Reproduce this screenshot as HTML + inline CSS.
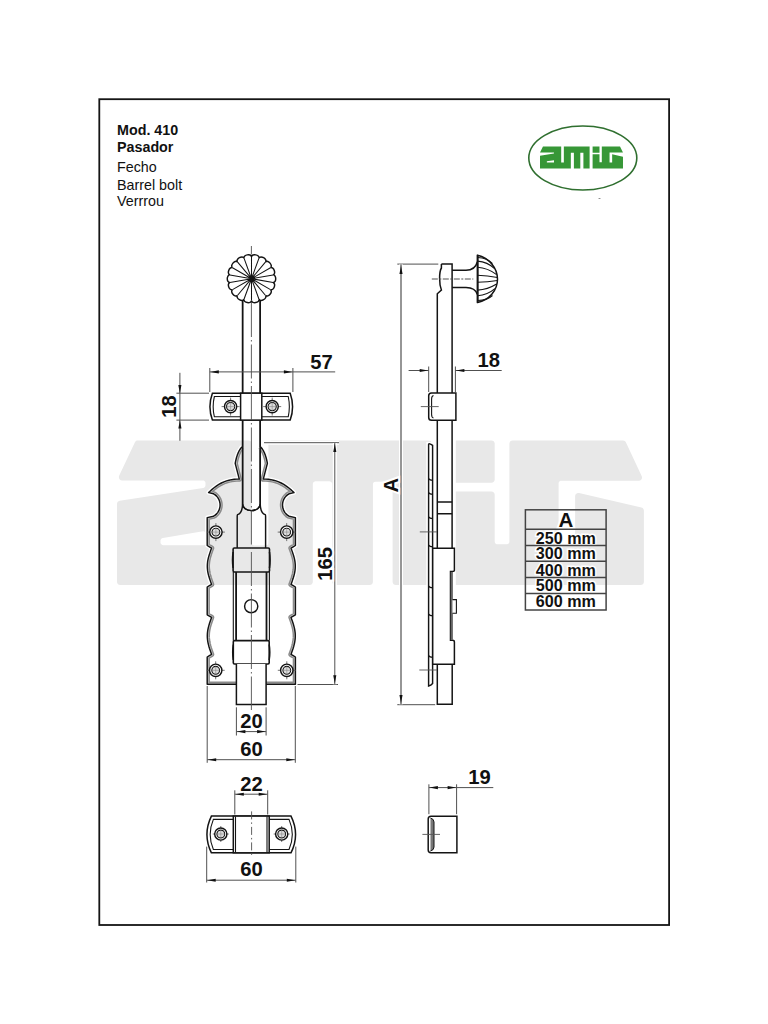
<!DOCTYPE html><html><head><meta charset="utf-8"><title>Mod. 410 Pasador</title><style>html,body{margin:0;padding:0;background:#fff;width:768px;height:1024px;overflow:hidden}svg{display:block}text{font-family:"Liberation Sans",sans-serif}</style></head><body><svg width="768" height="1024" viewBox="0 0 768 1024"><rect width="768" height="1024" fill="#fff"/><path d="M451,581.9 L451.24,583.12 L451.94,584.16 L452.98,584.86 L454.2,585.1 L640.7,585.1 L641.92,584.86 L642.96,584.16 L643.66,583.12 L643.9,581.9 L643.9,510.55 L643.58,509.16 L642.7,508.05 L641.42,507.43 L579.02,493.1 L577.87,493.05 L576.79,493.4 L575.89,494.11 L575.3,495.09 L575.1,496.22 L575.1,543.24 L574.96,544.09 L574.73,544.66 L574.08,545.41 L573.19,545.86 L572.65,545.97 L561.36,546 L560.51,545.86 L559.62,545.41 L558.97,544.66 L558.63,543.55 L558.6,483.46 L558.74,482.61 L558.97,482.04 L559.62,481.29 L560.51,480.84 L561.36,480.7 L638.86,480.7 L640.12,480.45 L641.17,479.72 L641.85,478.64 L642.06,477.38 L641.76,476.14 L625.86,442.24 L625.16,441.27 L624.15,440.63 L622.97,440.4 L512.6,440.4 L511.38,440.64 L510.34,441.34 L509.64,442.38 L509.4,443.6 L509.4,541.54 L509.26,542.39 L509.03,542.96 L508.06,543.93 L506.95,544.27 L497.46,544.3 L496.61,544.16 L495.72,543.71 L495.29,543.28 L494.84,542.39 L494.7,541.54 L494.7,494.7 L494.46,493.48 L493.76,492.44 L492.72,491.74 L491.5,491.5 L454.2,491.5 L452.98,491.74 L451.94,492.44 L451.24,493.48 L451,494.7ZM454.2,440.4 L452.98,440.64 L451.94,441.34 L451.24,442.38 L451,443.6 L451,479.5 L451.24,480.72 L451.94,481.76 L452.98,482.46 L454.2,482.7 L491.5,482.7 L492.72,482.46 L493.76,481.76 L494.46,480.72 L494.7,479.5 L494.7,443.6 L494.46,442.38 L493.76,441.34 L492.72,440.64 L491.5,440.4ZM117,581.9 L117.24,583.12 L117.94,584.16 L118.98,584.86 L120.2,585.1 L309.6,585.1 L310.82,584.86 L311.86,584.16 L312.56,583.12 L312.8,581.9 L312.83,483.75 L312.94,483.21 L313.39,482.32 L314.14,481.67 L315.25,481.33 L329.44,481.3 L330.29,481.44 L331.18,481.89 L331.83,482.64 L332.06,483.21 L332.2,484.06 L332.2,581.9 L332.44,583.12 L333.14,584.16 L334.18,584.86 L335.4,585.1 L369.7,585.1 L370.92,584.86 L371.96,584.16 L372.66,583.12 L372.9,581.9 L372.93,484.05 L373.04,483.51 L373.49,482.62 L374.24,481.97 L375.35,481.63 L389.84,481.6 L390.69,481.74 L391.58,482.19 L392.23,482.94 L392.46,483.51 L392.6,484.36 L392.6,581.9 L392.84,583.12 L393.54,584.16 L394.58,584.86 L395.8,585.1 L428.8,585.1 L430.02,584.86 L431.06,584.16 L431.76,583.12 L432,581.9 L432,443.6 L431.76,442.38 L431.06,441.34 L430.02,440.64 L428.8,440.4 L271.6,440.4 L270.38,440.64 L269.34,441.34 L268.64,442.38 L268.4,443.6 L268.37,543.05 L268.03,544.16 L267.38,544.91 L266.49,545.36 L265.95,545.47 L254.36,545.5 L253.51,545.36 L252.94,545.13 L252.19,544.48 L251.74,543.59 L251.6,542.74 L251.6,443.6 L251.36,442.38 L250.66,441.34 L249.62,440.64 L248.4,440.4 L137.83,440.4 L136.65,440.62 L135.64,441.27 L134.94,442.24 L119.14,475.84 L118.84,477.08 L119.05,478.34 L119.74,479.42 L120.79,480.14 L122.04,480.4 L202.74,480.4 L203.59,480.54 L204.16,480.77 L205.13,481.74 L205.36,482.31 L205.5,483.16 L205.47,485.51 L205.19,486.52 L204.65,487.24 L203.89,487.73 L203.15,487.96 L119.71,500.77 L118.65,501.14 L117.77,501.85 L117.2,502.82 L117,503.94ZM206,542.44 L205.86,543.29 L205.41,544.18 L204.66,544.83 L204.09,545.06 L203.24,545.2 L163.26,545.2 L162.41,545.06 L161.84,544.83 L160.87,543.86 L160.53,542.75 L160.5,540.74 L160.61,539.98 L160.97,539.17 L161.6,538.52 L162.81,538.01 L203.15,531.31 L203.74,531.35 L204.77,531.72 L205.29,532.16 L205.83,533.12 L206,534.04Z" fill="#e8e8e8" fill-rule="evenodd"/>
<rect x="99.3" y="99.2" width="569.8" height="825.8" fill="none" stroke="#151515" stroke-width="1.8"/>
<g font-family="Liberation Sans" fill="#111"><text x="117" y="135" font-size="14.3" font-weight="bold">Mod. 410</text><text x="117" y="151.7" font-size="14.3" font-weight="bold">Pasador</text><text x="117" y="172.4" font-size="14.3">Fecho</text><text x="117" y="189.6" font-size="14.3">Barrel bolt</text><text x="117" y="206.4" font-size="14.3">Verrrou</text></g>
<g id="logo"><ellipse cx="582.8" cy="158" rx="54" ry="32" fill="none" stroke="#2f6f2f" stroke-width="1.6"/><g transform="translate(540,146.4) scale(0.1575,0.1526) translate(-117,-440.4)"><path d="M135.8,440.4 L117,480.4 L205.5,480.4 L205.5,487.6 L117,501.19 L117,585.1 L312.8,585.1 L312.8,481.3 L332.2,481.3 L332.2,585.1 L372.9,585.1 L372.9,481.6 L392.6,481.6 L392.6,585.1 L432,585.1 L432,440.4 L268.4,440.4 L268.4,545.5 L251.6,545.5 L251.6,440.4ZM206,545.2 L160.5,545.2 L160.5,538.4 L206,530.8ZM451,440.4 L451,482.7 L494.7,482.7 L494.7,440.4ZM625,440.4 L509.4,440.4 L509.4,544.3 L494.7,544.3 L494.7,491.5 L451,491.5 L451,585.1 L643.9,585.1 L643.9,508 L575.1,492.2 L575.1,546 L558.6,546 L558.6,480.7 L643.9,480.7Z" fill="#379737" fill-rule="evenodd"/></g><ellipse cx="599.5" cy="198.5" rx="1.2" ry="0.6" fill="#888"/></g>
<path d="M251.5,256.8 C251.87,253.27 259.85,254.68 258.99,258.12 C260.54,254.93 267.56,258.98 265.58,261.92 C268.13,259.46 273.34,265.66 270.47,267.75 C273.71,266.31 276.48,273.92 273.07,274.9 C276.61,274.65 276.61,282.75 273.07,282.5 C276.48,283.48 273.71,291.09 270.47,289.65 C273.34,291.74 268.13,297.94 265.58,295.48 C267.56,298.42 260.54,302.47 258.99,299.28 C259.85,302.72 251.87,304.13 251.5,300.6 C251.13,304.13 243.15,302.72 244.01,299.28 C242.46,302.47 235.44,298.42 237.42,295.48 C234.87,297.94 229.66,291.74 232.53,289.65 C229.29,291.09 226.52,283.48 229.93,282.5 C226.39,282.75 226.39,274.65 229.93,274.9 C226.52,273.92 229.29,266.31 232.53,267.75 C229.66,265.66 234.87,259.46 237.42,261.92 C235.44,258.98 242.46,254.93 244.01,258.12 C243.15,254.68 251.13,253.27 251.5,256.8 Z" fill="#fff" stroke="#141414" stroke-width="1.45"/>
<path d="M251.5,278.7 L251.5,256.8 M251.5,278.7 L258.99,258.12 M251.5,278.7 L265.58,261.92 M251.5,278.7 L270.47,267.75 M251.5,278.7 L273.07,274.9 M251.5,278.7 L273.07,282.5 M251.5,278.7 L270.47,289.65 M251.5,278.7 L265.58,295.48 M251.5,278.7 L258.99,299.28 M251.5,278.7 L251.5,300.6 M251.5,278.7 L244.01,299.28 M251.5,278.7 L237.42,295.48 M251.5,278.7 L232.53,289.65 M251.5,278.7 L229.93,282.5 M251.5,278.7 L229.93,274.9 M251.5,278.7 L232.53,267.75 M251.5,278.7 L237.42,261.92 M251.5,278.7 L244.01,258.12 " fill="none" stroke="#141414" stroke-width="1.05"/>
<circle cx="251.5" cy="278.7" r="1.4" fill="#141414"/>
<path d="M242.6,300.5 L242.6,504.2 A8.8,6.4 0 0 0 260.2,504.2 L260.2,300.5" fill="none" stroke="#141414" stroke-width="1.45"/>
<defs><clipPath id="pc"><path d="M242.2,446.8 L241.04,448.02 L239.96,449.49 L238.97,451.2 L238.05,453.15 L237.22,455.35 L236.46,457.79 L235.79,460.47 L235.2,463.4 L239.3,479.1 L236.74,479.14 L234.18,479.32 L231.62,479.66 L229.07,480.18 L226.51,480.9 L223.95,481.84 L221.39,483.01 L218.83,484.41 L216.28,486.07 L213.72,487.98 L211.16,490.15 L208.6,492.6 L213.56,493.78 L215.17,494.85 L216.6,496.15 L217.82,497.66 L218.8,499.34 L219.52,501.15 L219.95,503.05 L220.1,505 L219.95,506.95 L219.52,508.85 L218.8,510.66 L217.82,512.34 L216.6,513.85 L215.17,515.15 L213.56,516.22 L207.2,517.6 L207.2,545.5 L209.4,546.8 L211.6,548.1 L210.85,550.12 L210.13,552.13 L209.45,554.15 L208.84,556.17 L208.31,558.18 L207.88,560.2 L207.56,562.22 L207.37,564.23 L207.3,566.25 L207.37,568.27 L207.56,570.28 L207.88,572.3 L208.31,574.32 L208.84,576.33 L209.45,578.35 L210.13,580.37 L210.85,582.38 L211.6,584.4 L209.4,585.7 L207.2,587 L207.2,614.8 L209.4,616.1 L211.6,617.4 L210.85,619.46 L210.13,621.51 L209.45,623.57 L208.84,625.62 L208.31,627.68 L207.88,629.73 L207.56,631.79 L207.37,633.84 L207.3,635.9 L207.37,637.96 L207.56,640.01 L207.88,642.07 L208.31,644.12 L208.84,646.18 L209.45,648.23 L210.13,650.29 L210.85,652.34 L211.6,654.4 L209.4,655.7 L207.2,657 L207.2,684.2 L295.4,684.2 L295.4,657 L293.2,655.7 L291,654.4 L291.75,652.34 L292.47,650.29 L293.15,648.23 L293.76,646.18 L294.29,644.12 L294.72,642.07 L295.04,640.01 L295.23,637.96 L295.3,635.9 L295.23,633.84 L295.04,631.79 L294.72,629.73 L294.29,627.68 L293.76,625.62 L293.15,623.57 L292.47,621.51 L291.75,619.46 L291,617.4 L293.2,616.1 L295.4,614.8 L295.4,587 L293.2,585.7 L291,584.4 L291.75,582.38 L292.47,580.37 L293.15,578.35 L293.76,576.33 L294.29,574.32 L294.72,572.3 L295.04,570.28 L295.23,568.27 L295.3,566.25 L295.23,564.23 L295.04,562.22 L294.72,560.2 L294.29,558.18 L293.76,556.17 L293.15,554.15 L292.47,552.13 L291.75,550.12 L291,548.1 L293.2,546.8 L295.4,545.5 L295.4,517.6 L289.04,516.22 L287.43,515.15 L286,513.85 L284.78,512.34 L283.8,510.66 L283.08,508.85 L282.65,506.95 L282.5,505 L282.65,503.05 L283.08,501.15 L283.8,499.34 L284.78,497.66 L286,496.15 L287.43,494.85 L289.04,493.78 L294,492.6 L291.44,490.15 L288.88,487.98 L286.33,486.07 L283.77,484.41 L281.21,483.01 L278.65,481.84 L276.09,480.9 L273.53,480.18 L270.98,479.66 L268.42,479.32 L265.86,479.14 L263.3,479.1 L267.4,463.4 L266.81,460.47 L266.14,457.79 L265.38,455.35 L264.55,453.15 L263.63,451.2 L262.64,449.49 L261.56,448.02 L260.4,446.8 Z"/></clipPath></defs>
<path d="M242.2,446.8 L241.04,448.02 L239.96,449.49 L238.97,451.2 L238.05,453.15 L237.22,455.35 L236.46,457.79 L235.79,460.47 L235.2,463.4 L239.3,479.1 L236.74,479.14 L234.18,479.32 L231.62,479.66 L229.07,480.18 L226.51,480.9 L223.95,481.84 L221.39,483.01 L218.83,484.41 L216.28,486.07 L213.72,487.98 L211.16,490.15 L208.6,492.6 L213.56,493.78 L215.17,494.85 L216.6,496.15 L217.82,497.66 L218.8,499.34 L219.52,501.15 L219.95,503.05 L220.1,505 L219.95,506.95 L219.52,508.85 L218.8,510.66 L217.82,512.34 L216.6,513.85 L215.17,515.15 L213.56,516.22 L207.2,517.6 L207.2,545.5 L209.4,546.8 L211.6,548.1 L210.85,550.12 L210.13,552.13 L209.45,554.15 L208.84,556.17 L208.31,558.18 L207.88,560.2 L207.56,562.22 L207.37,564.23 L207.3,566.25 L207.37,568.27 L207.56,570.28 L207.88,572.3 L208.31,574.32 L208.84,576.33 L209.45,578.35 L210.13,580.37 L210.85,582.38 L211.6,584.4 L209.4,585.7 L207.2,587 L207.2,614.8 L209.4,616.1 L211.6,617.4 L210.85,619.46 L210.13,621.51 L209.45,623.57 L208.84,625.62 L208.31,627.68 L207.88,629.73 L207.56,631.79 L207.37,633.84 L207.3,635.9 L207.37,637.96 L207.56,640.01 L207.88,642.07 L208.31,644.12 L208.84,646.18 L209.45,648.23 L210.13,650.29 L210.85,652.34 L211.6,654.4 L209.4,655.7 L207.2,657 L207.2,684.2 L295.4,684.2 L295.4,657 L293.2,655.7 L291,654.4 L291.75,652.34 L292.47,650.29 L293.15,648.23 L293.76,646.18 L294.29,644.12 L294.72,642.07 L295.04,640.01 L295.23,637.96 L295.3,635.9 L295.23,633.84 L295.04,631.79 L294.72,629.73 L294.29,627.68 L293.76,625.62 L293.15,623.57 L292.47,621.51 L291.75,619.46 L291,617.4 L293.2,616.1 L295.4,614.8 L295.4,587 L293.2,585.7 L291,584.4 L291.75,582.38 L292.47,580.37 L293.15,578.35 L293.76,576.33 L294.29,574.32 L294.72,572.3 L295.04,570.28 L295.23,568.27 L295.3,566.25 L295.23,564.23 L295.04,562.22 L294.72,560.2 L294.29,558.18 L293.76,556.17 L293.15,554.15 L292.47,552.13 L291.75,550.12 L291,548.1 L293.2,546.8 L295.4,545.5 L295.4,517.6 L289.04,516.22 L287.43,515.15 L286,513.85 L284.78,512.34 L283.8,510.66 L283.08,508.85 L282.65,506.95 L282.5,505 L282.65,503.05 L283.08,501.15 L283.8,499.34 L284.78,497.66 L286,496.15 L287.43,494.85 L289.04,493.78 L294,492.6 L291.44,490.15 L288.88,487.98 L286.33,486.07 L283.77,484.41 L281.21,483.01 L278.65,481.84 L276.09,480.9 L273.53,480.18 L270.98,479.66 L268.42,479.32 L265.86,479.14 L263.3,479.1 L267.4,463.4 L266.81,460.47 L266.14,457.79 L265.38,455.35 L264.55,453.15 L263.63,451.2 L262.64,449.49 L261.56,448.02 L260.4,446.8" fill="none" stroke="#fff" stroke-width="4.2" stroke-linejoin="round"/>
<path d="M242.2,446.8 L241.04,448.02 L239.96,449.49 L238.97,451.2 L238.05,453.15 L237.22,455.35 L236.46,457.79 L235.79,460.47 L235.2,463.4 L239.3,479.1 L236.74,479.14 L234.18,479.32 L231.62,479.66 L229.07,480.18 L226.51,480.9 L223.95,481.84 L221.39,483.01 L218.83,484.41 L216.28,486.07 L213.72,487.98 L211.16,490.15 L208.6,492.6 L213.56,493.78 L215.17,494.85 L216.6,496.15 L217.82,497.66 L218.8,499.34 L219.52,501.15 L219.95,503.05 L220.1,505 L219.95,506.95 L219.52,508.85 L218.8,510.66 L217.82,512.34 L216.6,513.85 L215.17,515.15 L213.56,516.22 L207.2,517.6 L207.2,545.5 L209.4,546.8 L211.6,548.1 L210.85,550.12 L210.13,552.13 L209.45,554.15 L208.84,556.17 L208.31,558.18 L207.88,560.2 L207.56,562.22 L207.37,564.23 L207.3,566.25 L207.37,568.27 L207.56,570.28 L207.88,572.3 L208.31,574.32 L208.84,576.33 L209.45,578.35 L210.13,580.37 L210.85,582.38 L211.6,584.4 L209.4,585.7 L207.2,587 L207.2,614.8 L209.4,616.1 L211.6,617.4 L210.85,619.46 L210.13,621.51 L209.45,623.57 L208.84,625.62 L208.31,627.68 L207.88,629.73 L207.56,631.79 L207.37,633.84 L207.3,635.9 L207.37,637.96 L207.56,640.01 L207.88,642.07 L208.31,644.12 L208.84,646.18 L209.45,648.23 L210.13,650.29 L210.85,652.34 L211.6,654.4 L209.4,655.7 L207.2,657 L207.2,684.2 L295.4,684.2 L295.4,657 L293.2,655.7 L291,654.4 L291.75,652.34 L292.47,650.29 L293.15,648.23 L293.76,646.18 L294.29,644.12 L294.72,642.07 L295.04,640.01 L295.23,637.96 L295.3,635.9 L295.23,633.84 L295.04,631.79 L294.72,629.73 L294.29,627.68 L293.76,625.62 L293.15,623.57 L292.47,621.51 L291.75,619.46 L291,617.4 L293.2,616.1 L295.4,614.8 L295.4,587 L293.2,585.7 L291,584.4 L291.75,582.38 L292.47,580.37 L293.15,578.35 L293.76,576.33 L294.29,574.32 L294.72,572.3 L295.04,570.28 L295.23,568.27 L295.3,566.25 L295.23,564.23 L295.04,562.22 L294.72,560.2 L294.29,558.18 L293.76,556.17 L293.15,554.15 L292.47,552.13 L291.75,550.12 L291,548.1 L293.2,546.8 L295.4,545.5 L295.4,517.6 L289.04,516.22 L287.43,515.15 L286,513.85 L284.78,512.34 L283.8,510.66 L283.08,508.85 L282.65,506.95 L282.5,505 L282.65,503.05 L283.08,501.15 L283.8,499.34 L284.78,497.66 L286,496.15 L287.43,494.85 L289.04,493.78 L294,492.6 L291.44,490.15 L288.88,487.98 L286.33,486.07 L283.77,484.41 L281.21,483.01 L278.65,481.84 L276.09,480.9 L273.53,480.18 L270.98,479.66 L268.42,479.32 L265.86,479.14 L263.3,479.1 L267.4,463.4 L266.81,460.47 L266.14,457.79 L265.38,455.35 L264.55,453.15 L263.63,451.2 L262.64,449.49 L261.56,448.02 L260.4,446.8" fill="none" stroke="#8a8a8a" stroke-width="5.4" stroke-linejoin="round" clip-path="url(#pc)"/>
<path d="M242.2,446.8 L241.04,448.02 L239.96,449.49 L238.97,451.2 L238.05,453.15 L237.22,455.35 L236.46,457.79 L235.79,460.47 L235.2,463.4 L239.3,479.1 L236.74,479.14 L234.18,479.32 L231.62,479.66 L229.07,480.18 L226.51,480.9 L223.95,481.84 L221.39,483.01 L218.83,484.41 L216.28,486.07 L213.72,487.98 L211.16,490.15 L208.6,492.6 L213.56,493.78 L215.17,494.85 L216.6,496.15 L217.82,497.66 L218.8,499.34 L219.52,501.15 L219.95,503.05 L220.1,505 L219.95,506.95 L219.52,508.85 L218.8,510.66 L217.82,512.34 L216.6,513.85 L215.17,515.15 L213.56,516.22 L207.2,517.6 L207.2,545.5 L209.4,546.8 L211.6,548.1 L210.85,550.12 L210.13,552.13 L209.45,554.15 L208.84,556.17 L208.31,558.18 L207.88,560.2 L207.56,562.22 L207.37,564.23 L207.3,566.25 L207.37,568.27 L207.56,570.28 L207.88,572.3 L208.31,574.32 L208.84,576.33 L209.45,578.35 L210.13,580.37 L210.85,582.38 L211.6,584.4 L209.4,585.7 L207.2,587 L207.2,614.8 L209.4,616.1 L211.6,617.4 L210.85,619.46 L210.13,621.51 L209.45,623.57 L208.84,625.62 L208.31,627.68 L207.88,629.73 L207.56,631.79 L207.37,633.84 L207.3,635.9 L207.37,637.96 L207.56,640.01 L207.88,642.07 L208.31,644.12 L208.84,646.18 L209.45,648.23 L210.13,650.29 L210.85,652.34 L211.6,654.4 L209.4,655.7 L207.2,657 L207.2,684.2 L295.4,684.2 L295.4,657 L293.2,655.7 L291,654.4 L291.75,652.34 L292.47,650.29 L293.15,648.23 L293.76,646.18 L294.29,644.12 L294.72,642.07 L295.04,640.01 L295.23,637.96 L295.3,635.9 L295.23,633.84 L295.04,631.79 L294.72,629.73 L294.29,627.68 L293.76,625.62 L293.15,623.57 L292.47,621.51 L291.75,619.46 L291,617.4 L293.2,616.1 L295.4,614.8 L295.4,587 L293.2,585.7 L291,584.4 L291.75,582.38 L292.47,580.37 L293.15,578.35 L293.76,576.33 L294.29,574.32 L294.72,572.3 L295.04,570.28 L295.23,568.27 L295.3,566.25 L295.23,564.23 L295.04,562.22 L294.72,560.2 L294.29,558.18 L293.76,556.17 L293.15,554.15 L292.47,552.13 L291.75,550.12 L291,548.1 L293.2,546.8 L295.4,545.5 L295.4,517.6 L289.04,516.22 L287.43,515.15 L286,513.85 L284.78,512.34 L283.8,510.66 L283.08,508.85 L282.65,506.95 L282.5,505 L282.65,503.05 L283.08,501.15 L283.8,499.34 L284.78,497.66 L286,496.15 L287.43,494.85 L289.04,493.78 L294,492.6 L291.44,490.15 L288.88,487.98 L286.33,486.07 L283.77,484.41 L281.21,483.01 L278.65,481.84 L276.09,480.9 L273.53,480.18 L270.98,479.66 L268.42,479.32 L265.86,479.14 L263.3,479.1 L267.4,463.4 L266.81,460.47 L266.14,457.79 L265.38,455.35 L264.55,453.15 L263.63,451.2 L262.64,449.49 L261.56,448.02 L260.4,446.8" fill="none" stroke="#d4d4d4" stroke-width="2.5" stroke-linejoin="round" clip-path="url(#pc)"/>
<path d="M242.2,446.8 L241.04,448.02 L239.96,449.49 L238.97,451.2 L238.05,453.15 L237.22,455.35 L236.46,457.79 L235.79,460.47 L235.2,463.4 L239.3,479.1 L236.74,479.14 L234.18,479.32 L231.62,479.66 L229.07,480.18 L226.51,480.9 L223.95,481.84 L221.39,483.01 L218.83,484.41 L216.28,486.07 L213.72,487.98 L211.16,490.15 L208.6,492.6 L213.56,493.78 L215.17,494.85 L216.6,496.15 L217.82,497.66 L218.8,499.34 L219.52,501.15 L219.95,503.05 L220.1,505 L219.95,506.95 L219.52,508.85 L218.8,510.66 L217.82,512.34 L216.6,513.85 L215.17,515.15 L213.56,516.22 L207.2,517.6 L207.2,545.5 L209.4,546.8 L211.6,548.1 L210.85,550.12 L210.13,552.13 L209.45,554.15 L208.84,556.17 L208.31,558.18 L207.88,560.2 L207.56,562.22 L207.37,564.23 L207.3,566.25 L207.37,568.27 L207.56,570.28 L207.88,572.3 L208.31,574.32 L208.84,576.33 L209.45,578.35 L210.13,580.37 L210.85,582.38 L211.6,584.4 L209.4,585.7 L207.2,587 L207.2,614.8 L209.4,616.1 L211.6,617.4 L210.85,619.46 L210.13,621.51 L209.45,623.57 L208.84,625.62 L208.31,627.68 L207.88,629.73 L207.56,631.79 L207.37,633.84 L207.3,635.9 L207.37,637.96 L207.56,640.01 L207.88,642.07 L208.31,644.12 L208.84,646.18 L209.45,648.23 L210.13,650.29 L210.85,652.34 L211.6,654.4 L209.4,655.7 L207.2,657 L207.2,684.2 L295.4,684.2 L295.4,657 L293.2,655.7 L291,654.4 L291.75,652.34 L292.47,650.29 L293.15,648.23 L293.76,646.18 L294.29,644.12 L294.72,642.07 L295.04,640.01 L295.23,637.96 L295.3,635.9 L295.23,633.84 L295.04,631.79 L294.72,629.73 L294.29,627.68 L293.76,625.62 L293.15,623.57 L292.47,621.51 L291.75,619.46 L291,617.4 L293.2,616.1 L295.4,614.8 L295.4,587 L293.2,585.7 L291,584.4 L291.75,582.38 L292.47,580.37 L293.15,578.35 L293.76,576.33 L294.29,574.32 L294.72,572.3 L295.04,570.28 L295.23,568.27 L295.3,566.25 L295.23,564.23 L295.04,562.22 L294.72,560.2 L294.29,558.18 L293.76,556.17 L293.15,554.15 L292.47,552.13 L291.75,550.12 L291,548.1 L293.2,546.8 L295.4,545.5 L295.4,517.6 L289.04,516.22 L287.43,515.15 L286,513.85 L284.78,512.34 L283.8,510.66 L283.08,508.85 L282.65,506.95 L282.5,505 L282.65,503.05 L283.08,501.15 L283.8,499.34 L284.78,497.66 L286,496.15 L287.43,494.85 L289.04,493.78 L294,492.6 L291.44,490.15 L288.88,487.98 L286.33,486.07 L283.77,484.41 L281.21,483.01 L278.65,481.84 L276.09,480.9 L273.53,480.18 L270.98,479.66 L268.42,479.32 L265.86,479.14 L263.3,479.1 L267.4,463.4 L266.81,460.47 L266.14,457.79 L265.38,455.35 L264.55,453.15 L263.63,451.2 L262.64,449.49 L261.56,448.02 L260.4,446.8" fill="none" stroke="#141414" stroke-width="1.45" stroke-linejoin="round"/>
<path d="M242.6,504 Q242.3,513.3 237.6,514.6 Q237.2,515 237.2,516.5 L237.2,548" fill="none" stroke="#141414" stroke-width="1.45"/>
<path d="M260.2,504 Q260.5,513.3 265.2,514.6 Q265.6,515 265.6,516.5 L265.6,548" fill="none" stroke="#141414" stroke-width="1.45"/>
<path d="M242.6,300.5 L242.6,504.2 A8.8,6.4 0 0 0 260.2,504.2 L260.2,300.5" fill="none" stroke="#141414" stroke-width="1.45"/>
<path d="M233.3,572 L233.3,640.6 M269.4,572 L269.4,640.6" stroke="#141414" stroke-width="1.1"/>
<path d="M236.1,572 L236.1,640.6 M266.5,572 L266.5,640.6" stroke="#141414" stroke-width="1.8"/>
<rect x="233.1" y="548" width="36.4" height="24" rx="1.2" fill="none" stroke="#141414" stroke-width="1.6"/>
<rect x="233.3" y="640.6" width="35.9" height="23.4" rx="1.2" fill="none" stroke="#141414" stroke-width="1.6"/>
<path d="M233.1,552 Q231.9,560 233.1,568 M269.5,552 Q270.7,560 269.5,568 M233.3,644.5 Q232.1,652.3 233.3,660 M269.2,644.5 Q270.4,652.3 269.2,660" fill="none" stroke="#141414" stroke-width="1.5"/>
<path d="M236.4,664 L236.4,704.5 L266.1,704.5 L266.1,664" fill="#fff" stroke="#141414" stroke-width="1.5"/>
<circle cx="251.2" cy="606.2" r="6.6" fill="none" stroke="#141414" stroke-width="1.45"/>
<path d="M206.9,532.1 L224.9,532.1 M215.9,523.1 L215.9,541.1" stroke="#555" stroke-width="0.8"/><circle cx="215.9" cy="532.1" r="6.2" fill="#fff" stroke="#141414" stroke-width="1.45"/><circle cx="215.9" cy="532.1" r="3.9" fill="#ddd" stroke="#141414" stroke-width="1.1"/><path d="M212,532.1 L219.8,532.1 M215.9,528.2 L215.9,536" stroke="#888" stroke-width="0.6"/>
<path d="M277.7,532.1 L295.7,532.1 M286.7,523.1 L286.7,541.1" stroke="#555" stroke-width="0.8"/><circle cx="286.7" cy="532.1" r="6.2" fill="#fff" stroke="#141414" stroke-width="1.45"/><circle cx="286.7" cy="532.1" r="3.9" fill="#ddd" stroke="#141414" stroke-width="1.1"/><path d="M282.8,532.1 L290.6,532.1 M286.7,528.2 L286.7,536" stroke="#888" stroke-width="0.6"/>
<path d="M206.7,670.3 L224.7,670.3 M215.7,661.3 L215.7,679.3" stroke="#555" stroke-width="0.8"/><circle cx="215.7" cy="670.3" r="6.2" fill="#fff" stroke="#141414" stroke-width="1.45"/><circle cx="215.7" cy="670.3" r="3.9" fill="#ddd" stroke="#141414" stroke-width="1.1"/><path d="M211.8,670.3 L219.6,670.3 M215.7,666.4 L215.7,674.2" stroke="#888" stroke-width="0.6"/>
<path d="M277.8,670.3 L295.8,670.3 M286.8,661.3 L286.8,679.3" stroke="#555" stroke-width="0.8"/><circle cx="286.8" cy="670.3" r="6.2" fill="#fff" stroke="#141414" stroke-width="1.45"/><circle cx="286.8" cy="670.3" r="3.9" fill="#ddd" stroke="#141414" stroke-width="1.1"/><path d="M282.9,670.3 L290.7,670.3 M286.8,666.4 L286.8,674.2" stroke="#888" stroke-width="0.6"/>
<path d="M212.4,393.2 L290.2,393.2 Q294.95,406.65 290.2,420.1 L212.4,420.1 Q207.46,406.65 212.4,393.2 Z" fill="#fff" stroke="#141414" stroke-width="1.5"/><path d="M214.38,396.5 L288.22,396.5 Q290.46,406.65 288.22,416.8 L214.38,416.8 Q211.95,406.65 214.38,396.5 Z" fill="none" stroke="#141414" stroke-width="1.1"/>
<rect x="240.6" y="393.2" width="21.2" height="26.9" fill="#fff" stroke="#141414" stroke-width="1.5"/>
<path d="M221.6,406.6 L239.6,406.6 M230.6,397.6 L230.6,415.6" stroke="#555" stroke-width="0.8"/><circle cx="230.6" cy="406.6" r="6.1" fill="#fff" stroke="#141414" stroke-width="1.45"/><circle cx="230.6" cy="406.6" r="4.1" fill="#ddd" stroke="#141414" stroke-width="1.1"/><path d="M226.5,406.6 L234.7,406.6 M230.6,402.5 L230.6,410.7" stroke="#888" stroke-width="0.6"/>
<path d="M263.2,406.6 L281.2,406.6 M272.2,397.6 L272.2,415.6" stroke="#555" stroke-width="0.8"/><circle cx="272.2" cy="406.6" r="6.1" fill="#fff" stroke="#141414" stroke-width="1.45"/><circle cx="272.2" cy="406.6" r="4.1" fill="#ddd" stroke="#141414" stroke-width="1.1"/><path d="M268.1,406.6 L276.3,406.6 M272.2,402.5 L272.2,410.7" stroke="#888" stroke-width="0.6"/>
<path d="M251.4,246 L251.4,254.5" stroke="#505050" stroke-width="0.9"/>
<path d="M251.4,303 L251.4,710" stroke="#505050" stroke-width="0.9" stroke-dasharray="34 3 1.5 3"/>
<path d="M209.8,368 L209.8,392" stroke="#505050" stroke-width="1.0"/><path d="M292.9,368 L292.9,392" stroke="#505050" stroke-width="1.0"/><path d="M209.8,371.9 L335.2,371.9" stroke="#505050" stroke-width="1.0"/><path d="M210.3,371.9 L218.8,370.35 L218.8,373.45 Z" fill="#111"/><path d="M292.4,371.9 L283.9,373.45 L283.9,370.35 Z" fill="#111"/><text x="321.5" y="369.2" font-family="Liberation Sans" font-weight="bold" font-size="20.2" text-anchor="middle" fill="#111">57</text><path d="M176.4,393.2 L209,393.2" stroke="#505050" stroke-width="1.0"/><path d="M176.4,420.1 L209,420.1" stroke="#505050" stroke-width="1.0"/><path d="M179.9,372.8 L179.9,440.8" stroke="#505050" stroke-width="1.0"/><path d="M179.9,393.4 L178.35,384.9 L181.45,384.9 Z" fill="#111"/><path d="M179.9,419.9 L181.45,428.4 L178.35,428.4 Z" fill="#111"/><text x="176" y="406.4" font-family="Liberation Sans" font-weight="bold" font-size="20.2" text-anchor="middle" transform="rotate(-90 176 406.4)" fill="#111">18</text><path d="M264,442.7 L339,442.7" stroke="#fff" stroke-width="4"/><path d="M264,442.7 L339,442.7" stroke="#505050" stroke-width="1.0"/><path d="M297.5,684.5 L338,684.5" stroke="#fff" stroke-width="4"/><path d="M297.5,684.5 L338,684.5" stroke="#505050" stroke-width="1.0"/><path d="M334.8,443 L334.8,684.3" stroke="#fff" stroke-width="4"/><path d="M334.8,443 L334.8,684.3" stroke="#505050" stroke-width="1.0"/><path d="M334.8,443.4 L336.35,451.9 L333.25,451.9 Z" fill="#111"/><path d="M334.8,683.8 L333.25,675.3 L336.35,675.3 Z" fill="#111"/><text x="331.9" y="563.8" font-family="Liberation Sans" font-weight="bold" font-size="20.2" text-anchor="middle" transform="rotate(-90 331.9 563.8)" fill="#fff" stroke="#fff" stroke-width="4">165</text><text x="331.9" y="563.8" font-family="Liberation Sans" font-weight="bold" font-size="20.2" text-anchor="middle" transform="rotate(-90 331.9 563.8)" fill="#111">165</text><path d="M236.4,707.3 L236.4,735.5" stroke="#505050" stroke-width="1.0"/><path d="M266.1,707.3 L266.1,735.5" stroke="#505050" stroke-width="1.0"/><path d="M236.4,731.6 L266.1,731.6" stroke="#505050" stroke-width="1.0"/><path d="M236.9,731.6 L245.4,730.05 L245.4,733.15 Z" fill="#111"/><path d="M265.6,731.6 L257.1,733.15 L257.1,730.05 Z" fill="#111"/><text x="251.6" y="728.1" font-family="Liberation Sans" font-weight="bold" font-size="20.2" text-anchor="middle" fill="#111">20</text><path d="M207.2,686 L207.2,762.8" stroke="#505050" stroke-width="1.0"/><path d="M295.3,686 L295.3,762.8" stroke="#505050" stroke-width="1.0"/><path d="M207.2,759.7 L295.3,759.7" stroke="#505050" stroke-width="1.0"/><path d="M207.7,759.7 L216.2,758.15 L216.2,761.25 Z" fill="#111"/><path d="M294.8,759.7 L286.3,761.25 L286.3,758.15 Z" fill="#111"/><text x="251.6" y="755.8" font-family="Liberation Sans" font-weight="bold" font-size="20.2" text-anchor="middle" fill="#111">60</text>
<path d="M426.3,442 L434.5,442 L437.3,448 L437.3,293.8 L441.4,290 L439.6,278.3 L441.4,268 L441.4,264.1 L452.1,264.1 L453.8,440 L455.8,440 L455.8,704.5 L426.3,704.5 Z" fill="#fff"/><path d="M428.6,686 L428.6,444.5 Q429,442.8 432.6,445.4 L432.6,683.5 Q431,685.5 428.6,686 Z" fill="#fff" stroke="#141414" stroke-width="1.45"/><path d="M428.6,478.6 Q429.6,480.2 432.7,480.4" fill="none" stroke="#141414" stroke-width="1.2"/><path d="M428.6,492.6 Q429.6,494.2 432.7,494.4" fill="none" stroke="#141414" stroke-width="1.2"/><path d="M428.6,516.9 Q429.6,518.5 432.7,518.7" fill="none" stroke="#141414" stroke-width="1.2"/><path d="M428.6,545.1 Q429.6,546.7 432.7,546.9" fill="none" stroke="#141414" stroke-width="1.2"/><path d="M428.6,586.1 Q429.6,587.7 432.7,587.9" fill="none" stroke="#141414" stroke-width="1.2"/><path d="M428.6,614.1 Q429.6,615.7 432.7,615.9" fill="none" stroke="#141414" stroke-width="1.2"/><path d="M428.6,655.6 Q429.6,657.2 432.7,657.4" fill="none" stroke="#141414" stroke-width="1.2"/><path d="M441.4,264.1 L452.1,264.1 L452.1,548.3" fill="none" stroke="#141414" stroke-width="1.5"/><path d="M441.4,264.1 L441.4,268 C439,272 439,284 441.4,290 L437.3,293.8 L437.3,548.3" fill="none" stroke="#141414" stroke-width="1.5"/><path d="M437.3,502.1 L452.1,502.1 M437.3,513.8 L452.1,513.8" stroke="#141414" stroke-width="1.5"/><path d="M452.1,270.2 L466,270.2 C472,270.2 476,267 477.4,261.7 M452.1,287.5 L466,287.5 C472,287.5 476,290 477.4,294.5" fill="none" stroke="#141414" stroke-width="1.5"/><path d="M477.6,255.3 C489,258 497.5,268 497.5,279.3 C497.5,290.6 489,300 477.6,302.4 Z" fill="#fff" stroke="#141414" stroke-width="1.5"/><path d="M477.6,257.5 Q487.5,257.98 492.5,263.5 M477.6,261.1 Q487.5,261.71 494.6,268.7 M477.6,267.3 Q487.5,267.88 496.6,274.6 M477.6,275.2 Q487.5,275.38 497.5,277.5 M477.6,282.2 Q487.5,282.06 497.5,280.5 M477.6,290.1 Q487.5,289.61 496.6,284 M477.6,295.7 Q487.5,295.14 494.9,288.7 M477.6,300.5 Q487.5,300.1 492.5,295.5 " fill="none" stroke="#141414" stroke-width="1.1"/><path d="M477.6,255 L477.6,302.8" stroke="#141414" stroke-width="1.8"/><path d="M431.8,279 L473.3,279" stroke="#505050" stroke-width="1" stroke-dasharray="6 1.5 2 1.5"/><path d="M431.5,393 L455.9,393 L455.9,420.3 L431.5,420.3 Q428.7,420.3 428.7,417.5 L428.7,395.8 Q428.7,393 431.5,393 Z" fill="#fff" stroke="#141414" stroke-width="1.5"/><path d="M433.5,395.5 Q431.6,396 431.6,399 L431.6,414.5 Q431.6,417.6 433.5,418" fill="none" stroke="#141414" stroke-width="1.1"/><path d="M420.8,406.6 L438.7,406.6" stroke="#555" stroke-width="0.9"/><path d="M432.7,548.3 L454.4,548.3 L454.4,570.6 Q454.4,571.5 452.5,571.5 L450.5,571.5 L450.5,640.3 L452.5,640.3 Q454.4,640.3 454.4,642 L454.4,664.2 L432.7,664.2 Z" fill="#fff" stroke="#141414" stroke-width="1.5"/><path d="M451.8,572 L451.8,640" stroke="#666" stroke-width="2.2"/><path d="M452.5,599.6 L456.4,599.6 L456.4,613.3 L452.5,613.3" fill="#fff" stroke="#141414" stroke-width="1.1"/><path d="M437.3,664.2 L437.3,704.3 L452.2,704.3 L452.2,664.2" fill="none" stroke="#141414" stroke-width="1.5"/><path d="M419.8,531.9 L436.9,531.9" stroke="#555" stroke-width="0.9"/><path d="M419.3,670 L436.9,670" stroke="#555" stroke-width="0.9"/>
<path d="M397.3,264.1 L438.3,264.1" stroke="#fff" stroke-width="4"/><path d="M397.3,264.1 L438.3,264.1" stroke="#505050" stroke-width="1.0"/><path d="M397.3,704.7 L435.2,704.7" stroke="#fff" stroke-width="4"/><path d="M397.3,704.7 L435.2,704.7" stroke="#505050" stroke-width="1.0"/><path d="M401,264.5 L401,704.3" stroke="#fff" stroke-width="4"/><path d="M401,264.5 L401,704.3" stroke="#505050" stroke-width="1.2"/><path d="M401,265.6 L402.55,274.1 L399.45,274.1 Z" fill="#111"/><path d="M401,703.4 L399.45,694.9 L402.55,694.9 Z" fill="#111"/><text x="397.9" y="485.2" font-family="Liberation Sans" font-weight="bold" font-size="20.2" text-anchor="middle" transform="rotate(-90 397.9 485.2)" fill="#fff" stroke="#fff" stroke-width="4">A</text><text x="397.9" y="485.2" font-family="Liberation Sans" font-weight="bold" font-size="20.2" text-anchor="middle" transform="rotate(-90 397.9 485.2)" fill="#111">A</text><path d="M428.7,366.5 L428.7,392" stroke="#505050" stroke-width="1.0"/><path d="M455.4,366.5 L455.4,392" stroke="#505050" stroke-width="1.0"/><path d="M408.6,370.5 L428.7,370.5" stroke="#505050" stroke-width="1.0"/><path d="M455.4,370.5 L501.7,370.5" stroke="#505050" stroke-width="1.0"/><path d="M428.2,370.5 L419.7,372.05 L419.7,368.95 Z" fill="#111"/><path d="M455.9,370.5 L464.4,368.95 L464.4,372.05 Z" fill="#111"/><text x="488.8" y="367.2" font-family="Liberation Sans" font-weight="bold" font-size="20.2" text-anchor="middle" fill="#111">18</text>
<text x="566" y="526.7" font-family="Liberation Sans" font-weight="bold" font-size="20.5" text-anchor="middle" fill="#fff" stroke="#fff" stroke-width="4">A</text><text x="566" y="526.7" font-family="Liberation Sans" font-weight="bold" font-size="20.5" text-anchor="middle" fill="#111">A</text><text x="565.8" y="543.6" font-family="Liberation Sans" font-weight="bold" font-size="16" text-anchor="middle" textLength="60" lengthAdjust="spacingAndGlyphs" fill="#fff" stroke="#fff" stroke-width="3">250 mm</text><text x="565.8" y="543.6" font-family="Liberation Sans" font-weight="bold" font-size="16" text-anchor="middle" textLength="60" lengthAdjust="spacingAndGlyphs" fill="#111">250 mm</text><text x="565.8" y="559.2" font-family="Liberation Sans" font-weight="bold" font-size="16" text-anchor="middle" textLength="60" lengthAdjust="spacingAndGlyphs" fill="#fff" stroke="#fff" stroke-width="3">300 mm</text><text x="565.8" y="559.2" font-family="Liberation Sans" font-weight="bold" font-size="16" text-anchor="middle" textLength="60" lengthAdjust="spacingAndGlyphs" fill="#111">300 mm</text><text x="565.8" y="575.5" font-family="Liberation Sans" font-weight="bold" font-size="16" text-anchor="middle" textLength="60" lengthAdjust="spacingAndGlyphs" fill="#fff" stroke="#fff" stroke-width="3">400 mm</text><text x="565.8" y="575.5" font-family="Liberation Sans" font-weight="bold" font-size="16" text-anchor="middle" textLength="60" lengthAdjust="spacingAndGlyphs" fill="#111">400 mm</text><text x="565.8" y="591.1" font-family="Liberation Sans" font-weight="bold" font-size="16" text-anchor="middle" textLength="60" lengthAdjust="spacingAndGlyphs" fill="#fff" stroke="#fff" stroke-width="3">500 mm</text><text x="565.8" y="591.1" font-family="Liberation Sans" font-weight="bold" font-size="16" text-anchor="middle" textLength="60" lengthAdjust="spacingAndGlyphs" fill="#111">500 mm</text><text x="565.8" y="607.4" font-family="Liberation Sans" font-weight="bold" font-size="16" text-anchor="middle" textLength="60" lengthAdjust="spacingAndGlyphs" fill="#fff" stroke="#fff" stroke-width="3">600 mm</text><text x="565.8" y="607.4" font-family="Liberation Sans" font-weight="bold" font-size="16" text-anchor="middle" textLength="60" lengthAdjust="spacingAndGlyphs" fill="#111">600 mm</text><rect x="525.4" y="509.8" width="80.7" height="100.2" fill="none" stroke="#444" stroke-width="1.5"/><path d="M525.4,529.3 L606.1,529.3" stroke="#444" stroke-width="1.5"/><path d="M525.4,545.6 L606.1,545.6" stroke="#444" stroke-width="1.5"/><path d="M525.4,561.2 L606.1,561.2" stroke="#444" stroke-width="1.5"/><path d="M525.4,577.5 L606.1,577.5" stroke="#444" stroke-width="1.5"/><path d="M525.4,593.5 L606.1,593.5" stroke="#444" stroke-width="1.5"/>
<path d="M211.4,816.1 L291,816.1 Q300.12,834.45 291,852.8 L211.4,852.8 Q202.47,834.45 211.4,816.1 Z" fill="#fff" stroke="#141414" stroke-width="1.5"/><path d="M213.38,819.4 L289.02,819.4 Q295.63,834.45 289.02,849.5 L213.38,849.5 Q206.96,834.45 213.38,819.4 Z" fill="none" stroke="#141414" stroke-width="1.1"/><rect x="233.3" y="816.1" width="35.9" height="36.7" fill="#fff" stroke="#141414" stroke-width="1.5"/><path d="M235.5,816.5 L235.5,852.5 M267,816.5 L267,852.5" stroke="#141414" stroke-width="1.1"/><path d="M212.8,834 L228.8,834 M220.8,826 L220.8,842" stroke="#555" stroke-width="0.8"/><circle cx="220.8" cy="834" r="6.1" fill="#fff" stroke="#141414" stroke-width="1.45"/><circle cx="220.8" cy="834" r="3.9" fill="#ddd" stroke="#141414" stroke-width="1.1"/><path d="M216.9,834 L224.7,834 M220.8,830.1 L220.8,837.9" stroke="#888" stroke-width="0.6"/><path d="M273.7,834 L289.7,834 M281.7,826 L281.7,842" stroke="#555" stroke-width="0.8"/><circle cx="281.7" cy="834" r="6.1" fill="#fff" stroke="#141414" stroke-width="1.45"/><circle cx="281.7" cy="834" r="3.9" fill="#ddd" stroke="#141414" stroke-width="1.1"/><path d="M277.8,834 L285.6,834 M281.7,830.1 L281.7,837.9" stroke="#888" stroke-width="0.6"/><path d="M251.6,811.4 L251.6,857.5" stroke="#505050" stroke-width="0.9" stroke-dasharray="8 3 1.5 3"/><path d="M234.8,790.3 L234.8,814.5" stroke="#505050" stroke-width="1.0"/><path d="M267.7,790.3 L267.7,814.5" stroke="#505050" stroke-width="1.0"/><path d="M234.8,794.2 L267.7,794.2" stroke="#505050" stroke-width="1.0"/><path d="M235.3,794.2 L243.8,792.65 L243.8,795.75 Z" fill="#111"/><path d="M267.2,794.2 L258.7,795.75 L258.7,792.65 Z" fill="#111"/><text x="251.6" y="791.1" font-family="Liberation Sans" font-weight="bold" font-size="20.2" text-anchor="middle" fill="#111">22</text><path d="M206.7,846.6 L206.7,882.5" stroke="#505050" stroke-width="1.0"/><path d="M295.8,846.6 L295.8,882.5" stroke="#505050" stroke-width="1.0"/><path d="M206.7,880.2 L295.8,880.2" stroke="#505050" stroke-width="1.0"/><path d="M207.2,880.2 L215.7,878.65 L215.7,881.75 Z" fill="#111"/><path d="M295.3,880.2 L286.8,881.75 L286.8,878.65 Z" fill="#111"/><text x="251.6" y="876.3" font-family="Liberation Sans" font-weight="bold" font-size="20.2" text-anchor="middle" fill="#111">60</text>
<path d="M431,816.2 L456.9,816.2 L456.9,852.7 L431,852.7 Q428.2,852.7 428.2,850 L428.2,819 Q428.2,816.2 431,816.2 Z" fill="#fff" stroke="#141414" stroke-width="1.5"/><path d="M430.5,818 Q434,819 434,822 L434,847 Q434,850 430.5,851" fill="#777" stroke="#141414" stroke-width="1"/><path d="M422.4,834.4 L440,834.4" stroke="#555" stroke-width="0.9"/><path d="M428.9,784.3 L428.9,814.2" stroke="#505050" stroke-width="1.0"/><path d="M456.6,784.3 L456.6,814.2" stroke="#505050" stroke-width="1.0"/><path d="M428.9,787.6 L493.3,787.6" stroke="#505050" stroke-width="1.0"/><path d="M429.4,787.6 L437.9,786.05 L437.9,789.15 Z" fill="#111"/><path d="M456.1,787.6 L447.6,789.15 L447.6,786.05 Z" fill="#111"/><text x="479.6" y="784.3" font-family="Liberation Sans" font-weight="bold" font-size="20.2" text-anchor="middle" fill="#111">19</text></svg></body></html>
